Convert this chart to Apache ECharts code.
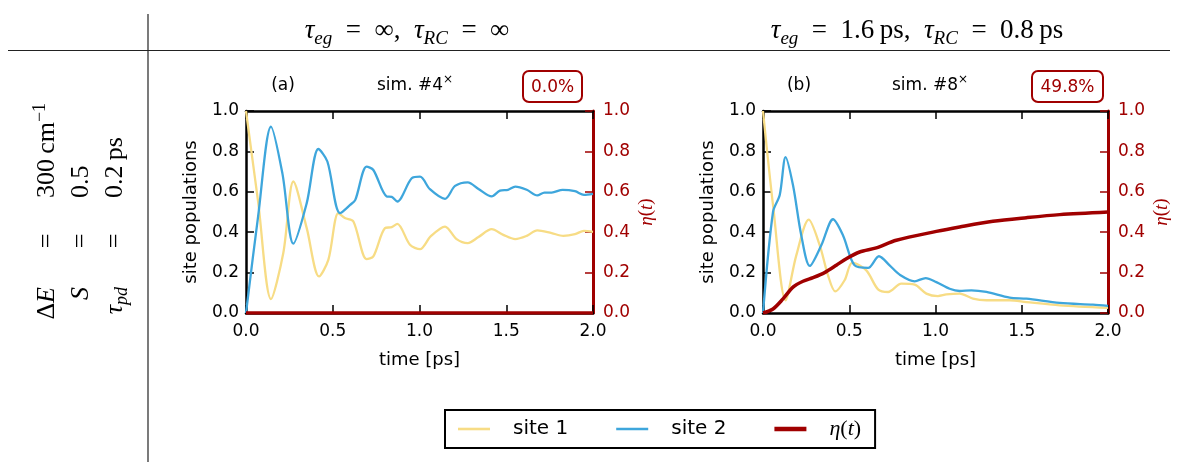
<!DOCTYPE html>
<html><head><meta charset="utf-8">
<script src="https://cdn.jsdelivr.net/npm/echarts@6/dist/echarts.min.js"></script>
<style>html,body{margin:0;padding:0;background:#fff}#c{width:1178px;height:462px}</style>
</head><body><div id="c"></div>
<script>
// ---- data ----
const seriesNames = ['site 1', 'site 2', 'η(t)'];
const panelLabels = ['(a)', '(b)'];
const simLabels = ['sim. #4', 'sim. #8'];
const efficiencyLabels = ['0.0%', '49.8%'];
const headerA = '{i|τ}{s|eg}{n|\u2002=\u2002∞,\u2002}{i|τ}{s|RC}{n|\u2002=\u2002∞}';
const headerB = '{i|τ}{s|eg}{n|\u2002=\u20021.6\u2009ps,\u2002}{i|τ}{s|RC}{n|\u2002=\u20020.8\u2009ps}';
const xTicks = [0, 0.5, 1.0, 1.5, 2.0];
const yTicks = [0, 0.2, 0.4, 0.6, 0.8, 1.0];

// panel (a)
const tA1 = [0, 0.07, 0.144, 0.215, 0.273, 0.35, 0.421, 0.475, 0.532, 0.57, 0.619, 0.695, 0.734, 0.801, 0.84, 0.872, 0.945, 1.003, 1.064, 1.147, 1.214, 1.278, 1.34, 1.416, 1.483, 1.552, 1.618, 1.679, 1.762, 1.829, 1.896, 1.948, 2.0];
const vA1 = [1.0, 0.55, 0.069, 0.297, 0.651, 0.42, 0.181, 0.264, 0.494, 0.47, 0.453, 0.267, 0.28, 0.42, 0.425, 0.441, 0.338, 0.316, 0.379, 0.428, 0.366, 0.346, 0.376, 0.415, 0.387, 0.366, 0.382, 0.409, 0.395, 0.382, 0.39, 0.407, 0.402];
const tA2 = [0, 0.07, 0.144, 0.21, 0.273, 0.35, 0.417, 0.469, 0.542, 0.6, 0.63, 0.695, 0.734, 0.811, 0.84, 0.872, 0.955, 1.003, 1.06, 1.147, 1.205, 1.278, 1.34, 1.416, 1.464, 1.51, 1.552, 1.618, 1.679, 1.72, 1.762, 1.825, 1.896, 1.948, 2.0];
const vA2 = [0, 0.48, 0.923, 0.69, 0.343, 0.544, 0.812, 0.75, 0.494, 0.535, 0.56, 0.725, 0.708, 0.577, 0.575, 0.552, 0.667, 0.675, 0.613, 0.565, 0.629, 0.647, 0.614, 0.577, 0.606, 0.61, 0.626, 0.61, 0.582, 0.596, 0.596, 0.61, 0.603, 0.585, 0.59];
const tA3 = [0, 2.0];
const vA3 = [0, 0];

// panel (b)
const tB1 = [0, 0.06, 0.131, 0.193, 0.265, 0.329, 0.377, 0.419, 0.473, 0.518, 0.599, 0.667, 0.725, 0.802, 0.879, 0.947, 1.014, 1.063, 1.14, 1.217, 1.295, 1.43, 1.527, 1.72, 2.0];
const vB1 = [1.0, 0.52, 0.063, 0.285, 0.462, 0.335, 0.186, 0.107, 0.162, 0.249, 0.211, 0.117, 0.104, 0.145, 0.14, 0.096, 0.084, 0.092, 0.096, 0.071, 0.063, 0.063, 0.054, 0.038, 0.025];
const tB2 = [0, 0.058, 0.097, 0.131, 0.174, 0.222, 0.271, 0.338, 0.406, 0.464, 0.531, 0.609, 0.672, 0.734, 0.792, 0.879, 0.943, 1.005, 1.082, 1.14, 1.208, 1.295, 1.43, 1.527, 1.72, 1.913, 2.0];
const vB2 = [0, 0.5, 0.584, 0.772, 0.632, 0.384, 0.233, 0.335, 0.464, 0.384, 0.236, 0.223, 0.281, 0.236, 0.19, 0.157, 0.173, 0.153, 0.12, 0.109, 0.112, 0.104, 0.076, 0.071, 0.05, 0.041, 0.035];
const tB3 = [0, 0.058, 0.116, 0.174, 0.232, 0.29, 0.357, 0.425, 0.483, 0.56, 0.657, 0.773, 1.005, 1.14, 1.333, 1.527, 1.72, 2.0];
const vB3 = [0, 0.02, 0.07, 0.128, 0.157, 0.175, 0.2, 0.236, 0.269, 0.302, 0.322, 0.36, 0.404, 0.426, 0.454, 0.472, 0.487, 0.5];

// ---- styling ----
const C1 = '#f7dc85', C2 = '#3ea6dc', CR = '#a00000';
const SANS = 'DejaVu Sans', SERIF = 'Liberation Serif';
const pair = (t, v) => t.map((x, i) => [x, v[i]]);

const grids = [
  {left: 246, top: 111, width: 347, height: 202},
  {left: 763, top: 111, width: 345, height: 202}
];

const xAxes = [], yAxes = [];
grids.forEach((g, gi) => {
  const common = {type: 'value', gridIndex: gi, min: xTicks[0], max: xTicks[xTicks.length - 1], interval: 0.5,
    splitLine: {show: false},
    axisLine: {show: true, onZero: false, lineStyle: {color: '#000', width: 2.5}},
    axisTick: {show: true, inside: true, length: 8, lineStyle: {color: '#000', width: 1.5}}};
  xAxes.push(Object.assign({}, common, {position: 'bottom', name: 'time [ps]', nameLocation: 'middle', nameGap: 38,
    nameTextStyle: {fontSize: 18, fontFamily: SANS, color: '#000'},
    axisLabel: {show: true, fontSize: 17, fontFamily: SANS, color: '#000', margin: 10, showMinLabel: true, showMaxLabel: true, formatter: v => v.toFixed(1)}}));
  xAxes.push(Object.assign({}, common, {position: 'top', axisLabel: {show: false}}));
  yAxes.push({type: 'value', gridIndex: gi, min: yTicks[0], max: yTicks[yTicks.length - 1], interval: 0.2, position: 'left',
    name: 'site populations', nameLocation: 'middle', nameGap: 46, nameRotate: 90,
    nameTextStyle: {fontSize: 18, fontFamily: SANS, color: '#000'},
    splitLine: {show: false},
    axisLine: {show: true, onZero: false, lineStyle: {color: '#000', width: 2.5}},
    axisTick: {show: true, inside: true, length: 8, lineStyle: {color: '#000', width: 1.5}},
    axisLabel: {fontSize: 17, fontFamily: SANS, color: '#000', margin: 7, showMinLabel: true, showMaxLabel: true, formatter: v => v.toFixed(1)}});
  yAxes.push({type: 'value', gridIndex: gi, min: yTicks[0], max: yTicks[yTicks.length - 1], interval: 0.2, position: 'right',
    name: '{i|η}{n|(}{i|t}{n|)}', nameLocation: 'middle', nameGap: 44, nameRotate: 90,
    nameTextStyle: {color: CR, rich: {i: {fontFamily: SERIF, fontStyle: 'italic', fontSize: 19, color: CR}, n: {fontFamily: SERIF, fontSize: 19, color: CR}}},
    splitLine: {show: false},
    axisLine: {show: true, onZero: false, lineStyle: {color: CR, width: 3}},
    axisTick: {show: true, inside: true, length: 8, lineStyle: {color: CR, width: 1.5}},
    axisLabel: {fontSize: 17, fontFamily: SANS, color: CR, margin: 10, showMinLabel: true, showMaxLabel: true, formatter: v => v.toFixed(1)}});
});

function lineSeries(name, data, gi, right, color, width, z) {
  return {type: 'line', name, data, xAxisIndex: gi * 2, yAxisIndex: gi * 2 + (right ? 1 : 0),
    smooth: 0.3, showSymbol: false, symbol: 'none', lineStyle: {color, width}, itemStyle: {color}, z, animation: false};
}
const series = [
  lineSeries(seriesNames[0], pair(tA1, vA1), 0, false, C1, 2.3, 2),
  lineSeries(seriesNames[1], pair(tA2, vA2), 0, false, C2, 2.3, 3),
  lineSeries(seriesNames[2], pair(tA3, vA3), 0, true, CR, 3.5, 4),
  lineSeries(seriesNames[0], pair(tB1, vB1), 1, false, C1, 2.3, 2),
  lineSeries(seriesNames[1], pair(tB2, vB2), 1, false, C2, 2.3, 3),
  lineSeries(seriesNames[2], pair(tB3, vB3), 1, true, CR, 3.5, 4)
];

const mathRich = {
  i: {fontFamily: SERIF, fontStyle: 'italic', fontSize: 27, lineHeight: 34, color: '#000'},
  n: {fontFamily: SERIF, fontSize: 27, lineHeight: 34, color: '#000'},
  s: {fontFamily: SERIF, fontStyle: 'italic', fontSize: 19, lineHeight: 18, verticalAlign: 'bottom', color: '#000'},
  sup: {fontFamily: SERIF, fontSize: 19, lineHeight: 18, verticalAlign: 'top', color: '#000'}
};
const tableRich = {
  i: {fontFamily: SERIF, fontStyle: 'italic', fontSize: 26, lineHeight: 32, color: '#000'},
  n: {fontFamily: SERIF, fontSize: 26, lineHeight: 32, color: '#000'},
  s: {fontFamily: SERIF, fontStyle: 'italic', fontSize: 18, lineHeight: 16, verticalAlign: 'bottom', color: '#000'},
  sup: {fontFamily: SERIF, fontSize: 18, lineHeight: 16, verticalAlign: 'top', color: '#000'}
};
const sansRich = {
  n: {fontFamily: SANS, fontSize: 17, lineHeight: 24, color: '#000'},
  sup: {fontFamily: SANS, fontSize: 12, lineHeight: 14, verticalAlign: 'top', color: '#000'}
};

const graphic = [
  {type: 'line', shape: {x1: 148, y1: 14, x2: 148, y2: 462}, style: {stroke: '#222', lineWidth: 1.2}},
  {type: 'line', shape: {x1: 8, y1: 50.5, x2: 1170, y2: 50.5}, style: {stroke: '#222', lineWidth: 1.2}},
  {type: 'text', x: 407, y: 31, style: {text: headerA, rich: mathRich, textAlign: 'center', textVerticalAlign: 'middle'}},
  {type: 'text', x: 917, y: 31, style: {text: headerB, rich: mathRich, textAlign: 'center', textVerticalAlign: 'middle'}},
  // rotated parameter table
  {type: 'text', x: 47, y: 287, rotation: Math.PI / 2, style: {text: '{n|Δ}{i|E}', rich: tableRich, textAlign: 'right', textVerticalAlign: 'middle'}},
  {type: 'text', x: 47, y: 241, rotation: Math.PI / 2, style: {text: '{n|=}', rich: tableRich, textAlign: 'center', textVerticalAlign: 'middle'}},
  {type: 'text', x: 47, y: 198, rotation: Math.PI / 2, style: {text: '{n|300\u2009cm}{sup|−1}', rich: tableRich, textAlign: 'left', textVerticalAlign: 'middle'}},
  {type: 'text', x: 81, y: 287, rotation: Math.PI / 2, style: {text: '{i|S}', rich: tableRich, textAlign: 'right', textVerticalAlign: 'middle'}},
  {type: 'text', x: 81, y: 241, rotation: Math.PI / 2, style: {text: '{n|=}', rich: tableRich, textAlign: 'center', textVerticalAlign: 'middle'}},
  {type: 'text', x: 81, y: 198, rotation: Math.PI / 2, style: {text: '{n|0.5}', rich: tableRich, textAlign: 'left', textVerticalAlign: 'middle'}},
  {type: 'text', x: 115, y: 287, rotation: Math.PI / 2, style: {text: '{i|τ}{s|pd}', rich: tableRich, textAlign: 'right', textVerticalAlign: 'middle'}},
  {type: 'text', x: 115, y: 241, rotation: Math.PI / 2, style: {text: '{n|=}', rich: tableRich, textAlign: 'center', textVerticalAlign: 'middle'}},
  {type: 'text', x: 115, y: 198, rotation: Math.PI / 2, style: {text: '{n|0.2\u2009ps}', rich: tableRich, textAlign: 'left', textVerticalAlign: 'middle'}}
];
const panelPos = [
  {lab: 283, sim: 377, box: [523, 71, 59, 31]},
  {lab: 799, sim: 892, box: [1032, 71, 71, 31]}
];
panelPos.forEach((p, i) => {
  graphic.push({type: 'text', x: p.lab, y: 86, style: {text: panelLabels[i], font: '17px "DejaVu Sans"', fill: '#000', textAlign: 'center', textVerticalAlign: 'middle'}});
  graphic.push({type: 'text', x: p.sim, y: 86, style: {text: '{n|' + simLabels[i] + '}{sup|×}', rich: sansRich, textAlign: 'left', textVerticalAlign: 'middle'}});
  graphic.push({type: 'rect', shape: {x: p.box[0], y: p.box[1], width: p.box[2], height: p.box[3], r: 6}, style: {fill: '#fff', stroke: CR, lineWidth: 2}});
  graphic.push({type: 'text', x: p.box[0] + p.box[2] / 2, y: p.box[1] + p.box[3] / 2 + 1, style: {text: efficiencyLabels[i], font: '17px "DejaVu Sans"', fill: CR, textAlign: 'center', textVerticalAlign: 'middle'}});
});

const chart = echarts.init(document.getElementById('c'), null, {renderer: 'canvas'});
chart.setOption({
  animation: false,
  backgroundColor: '#fff',
  grid: grids,
  xAxis: xAxes,
  yAxis: yAxes,
  series,
  legend: {
    left: 445, top: 410, orient: 'horizontal', padding: [8, 14, 8, 13],
    borderColor: '#000', borderWidth: 2, itemWidth: 32, itemHeight: 14, itemGap: 48,
    symbolKeepAspect: true,
    itemStyle: {borderWidth: 0},
    data: [
      {name: seriesNames[0], icon: 'path://M0,0H32V2.6H0Z'},
      {name: seriesNames[1], icon: 'path://M0,0H32V2.6H0Z'},
      {name: seriesNames[2], icon: 'path://M0,0H32V4.5H0Z'}
    ],
    textStyle: {fontSize: 20, fontFamily: SANS, color: '#000', padding: [0, 0, 0, 18],
      rich: {i: {fontFamily: SERIF, fontStyle: 'italic', fontSize: 22, color: '#000'}, n: {fontFamily: SERIF, fontSize: 22, color: '#000'}}},
    formatter: name => name === 'η(t)' ? '{i|η}{n|(}{i|t}{n|)}' : name
  },
  graphic
});
</script>
</body></html>
